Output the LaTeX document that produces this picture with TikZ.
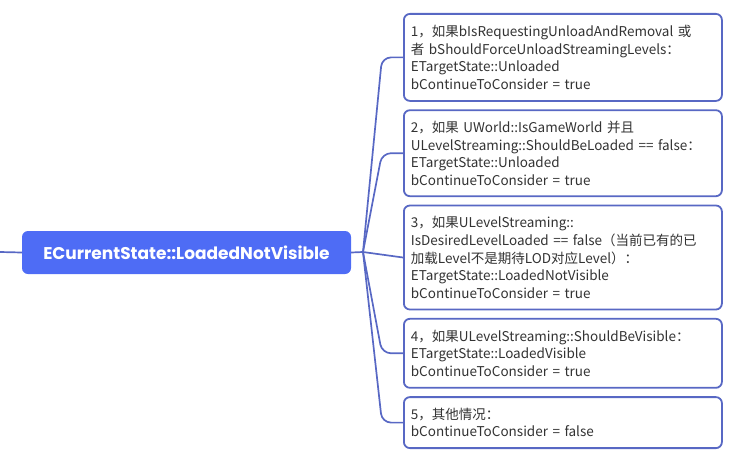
\documentclass[tikz,border=0pt]{standalone}
\usepackage{fontspec}
\setmainfont{Noto Sans CJK SC}
\newfontfamily\rootfont{Poppins}
\usetikzlibrary{positioning}

\definecolor{rootblue}{RGB}{78,108,245}
\definecolor{linkblue}{RGB}{88,104,196}
\definecolor{textgray}{RGB}{51,51,51}

\begin{document}
\begin{tikzpicture}[
  x=1pt, y=-1pt,
  rootbox/.style={fill=rootblue, rounded corners=6pt, minimum width=329pt,
                  minimum height=43pt, text=white, inner sep=0pt,
                  font=\rootfont\bfseries\fontsize{17}{20}\selectfont},
  leafbox/.style={draw=linkblue, line width=1.8pt, rounded corners=6pt, fill=white,
                  text width=304pt, minimum width=316pt, inner sep=7pt, align=left,
                  text=textgray, font=\fontsize{13.5}{17.6}\selectfont},
  link/.style={draw=linkblue, line width=1.7pt, rounded corners=9pt},
  node distance=7.5pt
]
  \useasboundingbox (0,0) rectangle (741,452);

  % root
  \coordinate (start) at (0,252);
  \node[rootbox] (root) at (186.5,252.5) {ECurrentState::LoadedNotVisible};
  \coordinate (branch) at (363,252);

  % cases
  \node[leafbox, minimum height=87pt, anchor=north west] (b1) at (403,13)
    {1，如果bIsRequestingUnloadAndRemoval 或\\者 bShouldForceUnloadStreamingLevels：\\ETargetState::Unloaded\\bContinueToConsider = true};
  \node[leafbox, minimum height=86pt, below=of b1] (b2)
    {2，如果 UWorld::IsGameWorld 并且\\ULevelStreaming::ShouldBeLoaded == false：\\ETargetState::Unloaded\\bContinueToConsider = true};
  \node[leafbox, minimum height=104pt, below=of b2] (b3)
    {3，如果ULevelStreaming::\\IsDesiredLevelLoaded == false（当前已有的已\\加载Level不是期待LOD对应Level）：\\ETargetState::LoadedNotVisible\\bContinueToConsider = true};
  \node[leafbox, minimum height=69pt, below=of b3] (b4)
    {4，如果ULevelStreaming::ShouldBeVisible：\\ETargetState::LoadedVisible\\bContinueToConsider = true};
  \node[leafbox, minimum height=51pt, below=of b4] (b5)
    {5，其他情况：\\bContinueToConsider = false};

  % links
  \draw[link] (start) -- (root.west);
  \draw[link] (root.east) -- (branch);
  \foreach \b in {b1,b2,b4,b5}
    \draw[link] (branch) -- ([xshift=-21pt]\b.west) -- (\b.west);
  \draw[link] (branch) -- (b3.west);
\end{tikzpicture}
\end{document}
